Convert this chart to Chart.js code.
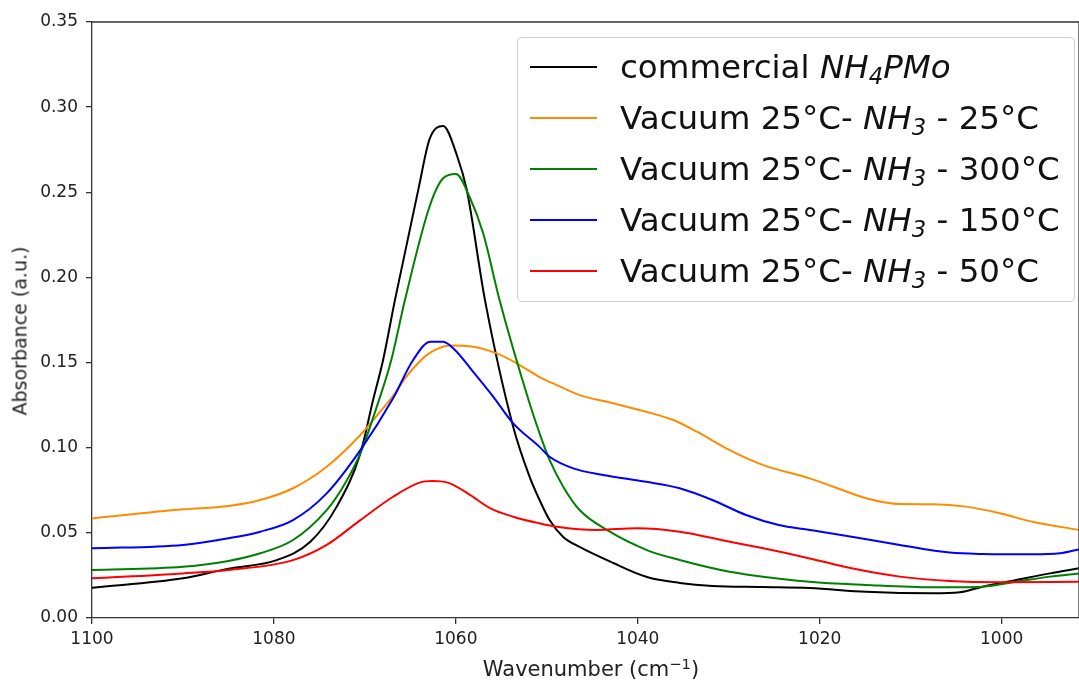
<!DOCTYPE html>
<html>
<head>
<meta charset="utf-8">
<script src="https://cdn.jsdelivr.net/npm/chart.js@4.4.1/dist/chart.umd.min.js"></script>
<style>
  html, body { margin: 0; padding: 0; background: #fff; }
  #wrap { position: relative; width: 1079px; height: 682px; }
  #legend {
    position: absolute; left: 517px; top: 37px; width: 558px; height: 265px;
    box-sizing: border-box; padding-top: 3px;
    border: 1px solid #cfcfcf; border-radius: 5px; background: rgba(255,255,255,0.8);
    font-family: "DejaVu Sans"; font-size: 32.5px; color: #111;
  }
  .row { height: 51px; display: flex; align-items: center; white-space: nowrap; }
  .swatch { width: 67px; height: 2px; margin-left: 12px; margin-right: 23px; flex: none; }
  sub { font-size: 0.7em; vertical-align: -0.25em; line-height: 0; }
  .axis-title { position: absolute; font-family: "DejaVu Sans"; color: #222; white-space: nowrap; line-height: 1; }
  #xtitle { left: 591px; top: 659px; transform: translateX(-50%); font-size: 21px; }
  #xtitle sup { font-size: 0.7em; vertical-align: 0.45em; line-height: 0; }
  #ytitle { left: 20px; top: 331px; transform: translate(-50%, -50%) rotate(-90deg); font-size: 19px; }
</style>
</head>
<body>
<div id="wrap">
  <canvas id="spectra" width="1079" height="682"></canvas>
  <div id="legend"></div>
  <div id="xtitle" class="axis-title">Wavenumber (cm<sup>−1</sup>)</div>
  <div id="ytitle" class="axis-title">Absorbance (a.u.)</div>
</div>
<script>
// wavenumber (cm-1) and absorbance, one pair of arrays per curve
const wnBlack  = [1100, 1090, 1085, 1079.7, 1076, 1073.1, 1070.5, 1069.1, 1068, 1066.7, 1064.1, 1062.9, 1061.4, 1059.9, 1058.8, 1056.8, 1053.7, 1051.9, 1050.8, 1049.7, 1048.2, 1046.4, 1042.7, 1039, 1035.4, 1031.8, 1026.3, 1021.1, 1014.9, 1007.6, 1004.6, 1002.1, 998.4, 994.7, 991.5];
const absBlack = [0.0178, 0.0233, 0.029, 0.034, 0.0448, 0.0654, 0.0967, 0.128, 0.1515, 0.1867, 0.2523, 0.2811, 0.2889, 0.2719, 0.2513, 0.1867, 0.1123, 0.083, 0.0693, 0.0575, 0.0476, 0.0417, 0.0323, 0.0241, 0.0206, 0.0188, 0.0182, 0.0176, 0.0154, 0.0145, 0.0151, 0.0184, 0.0223, 0.0262, 0.0292];

const wnOrange  = [1100, 1090, 1085, 1081.5, 1077.9, 1074.2, 1070.5, 1068.5, 1066.9, 1065.4, 1064, 1062.9, 1060.7, 1058.1, 1055.5, 1053.3, 1050.8, 1048.9, 1046.4, 1042.7, 1039.1, 1036.1, 1033.5, 1029.9, 1026.2, 1021.1, 1018.5, 1014.9, 1011.2, 1007.5, 1003.9, 1000.2, 996.6, 991.5];
const absOrange = [0.0585, 0.0638, 0.0658, 0.0693, 0.0762, 0.0888, 0.1075, 0.12, 0.1305, 0.142, 0.1505, 0.1555, 0.16, 0.1593, 0.1554, 0.1496, 0.1415, 0.1368, 0.1309, 0.1261, 0.1211, 0.1163, 0.1094, 0.0986, 0.0898, 0.082, 0.0771, 0.0703, 0.0669, 0.0668, 0.0654, 0.0615, 0.0565, 0.0517];

const wnGreen  = [1100, 1090, 1085, 1081.5, 1077.9, 1074.2, 1072.4, 1070.5, 1068.7, 1067.1, 1065.6, 1062.9, 1061.4, 1060, 1058.5, 1057, 1055.2, 1051.9, 1050.8, 1049.7, 1048.2, 1046.4, 1043.4, 1039, 1035.4, 1029.9, 1021.1, 1014.9, 1007.6, 1002.1, 998.4, 994.7, 991.5];
const absGreen = [0.0282, 0.0301, 0.0335, 0.038, 0.0458, 0.0634, 0.0771, 0.0967, 0.124, 0.1515, 0.1867, 0.2415, 0.2582, 0.2607, 0.2474, 0.2259, 0.1867, 0.1261, 0.1085, 0.0928, 0.0771, 0.0634, 0.0517, 0.0399, 0.0341, 0.0272, 0.0213, 0.0194, 0.018, 0.0184, 0.0213, 0.0243, 0.0262];

const wnBlue  = [1100, 1090, 1085, 1081.5, 1077.9, 1074.2, 1070.5, 1066.9, 1064.7, 1062.8, 1061.4, 1060.1, 1058.1, 1055.9, 1053.7, 1050.8, 1049.7, 1047.1, 1043.8, 1039.1, 1035.4, 1031.8, 1028.1, 1024.5, 1021.1, 1016.5, 1011.2, 1005.7, 1002.1, 996.6, 993.6, 991.5];
const absBlue = [0.0409, 0.0429, 0.0468, 0.0507, 0.0575, 0.0732, 0.0986, 0.129, 0.1515, 0.1623, 0.1623, 0.1574, 0.1446, 0.13, 0.1143, 0.1005, 0.0947, 0.0879, 0.084, 0.08, 0.0762, 0.0693, 0.0605, 0.0546, 0.0517, 0.0477, 0.0429, 0.0384, 0.0376, 0.0374, 0.038, 0.0403];

const wnRed  = [1100, 1090, 1085, 1077.9, 1074.2, 1070.5, 1066.9, 1064, 1062.6, 1060.9, 1058.7, 1056.2, 1053.7, 1050.8, 1048.9, 1044.5, 1040.1, 1035.4, 1029.9, 1026.2, 1021.1, 1016.5, 1011.2, 1005.7, 1000.2, 991.5];
const absRed = [0.0233, 0.0262, 0.0282, 0.034, 0.0429, 0.0575, 0.0712, 0.0795, 0.0804, 0.0795, 0.0732, 0.0644, 0.0595, 0.0556, 0.0536, 0.0517, 0.0527, 0.0507, 0.0448, 0.0409, 0.035, 0.0292, 0.0243, 0.0217, 0.021, 0.0213];

const xTicks = [1100, 1080, 1060, 1040, 1020, 1000];
const yTicks = [0, 0.05, 0.1, 0.15, 0.2, 0.25, 0.3, 0.35];

const legendLabels = [
  "commercial <i>NH<sub>4</sub>PMo</i>",
  "Vacuum 25°C- <i>NH<sub>3</sub></i> - 25°C",
  "Vacuum 25°C- <i>NH<sub>3</sub></i> - 300°C",
  "Vacuum 25°C- <i>NH<sub>3</sub></i> - 150°C",
  "Vacuum 25°C- <i>NH<sub>3</sub></i> - 50°C",
];
const lineColors = ["#000000", "#ff8c00", "#008000", "#0000ff", "#ff0000"];

const toPoints = (xs, ys) => xs.map((x, i) => ({ x: x, y: ys[i] }));
const curves = [
  toPoints(wnBlack, absBlack),
  toPoints(wnOrange, absOrange),
  toPoints(wnGreen, absGreen),
  toPoints(wnBlue, absBlue),
  toPoints(wnRed, absRed),
];

// top and right spines, like matplotlib's box
const frame = {
  id: "frame",
  afterDraw(chart) {
    const { ctx, chartArea: a } = chart;
    ctx.save();
    ctx.strokeStyle = "#333";
    ctx.lineWidth = 1.3;
    ctx.beginPath();
    ctx.moveTo(a.left, a.top);
    ctx.lineTo(a.right, a.top);
    ctx.lineTo(a.right, a.bottom);
    ctx.stroke();
    ctx.restore();
  },
};

const font = { family: "DejaVu Sans", size: 17 };
const axisGrid = { drawOnChartArea: false, drawTicks: true, tickLength: 6, color: "#333", lineWidth: 1.3 };
const axisBorder = { display: true, color: "#333", width: 1.3 };

new Chart(document.getElementById("spectra").getContext("2d"), {
  type: "line",
  data: {
    datasets: curves.map((pts, i) => ({
      label: legendLabels[i],
      data: pts,
      borderColor: lineColors[i],
      borderWidth: 2,
      pointRadius: 0,
      fill: false,
      cubicInterpolationMode: "monotone",
      order: 5 - i,
    })),
  },
  options: {
    responsive: false,
    animation: false,
    layout: { padding: { top: 22, right: 0, left: 0, bottom: 0 } },
    plugins: { legend: { display: false }, tooltip: { enabled: false } },
    scales: {
      x: {
        type: "linear",
        reverse: true,
        min: 991.5,
        max: 1100,
        afterBuildTicks: (s) => { s.ticks = xTicks.map((v) => ({ value: v })); },
        afterFit: (s) => { s.height = 64; },
        ticks: { font, color: "#222", padding: 5, maxRotation: 0, callback: (v) => String(v) },
        grid: axisGrid,
        border: axisBorder,
      },
      y: {
        min: 0,
        max: 0.35,
        afterBuildTicks: (s) => { s.ticks = yTicks.map((v) => ({ value: v })); },
        afterFit: (s) => { s.width = 92; },
        ticks: { font, color: "#222", padding: 8, callback: (v) => v.toFixed(2) },
        grid: axisGrid,
        border: axisBorder,
      },
    },
  },
  plugins: [frame],
});

const legendBox = document.getElementById("legend");
legendLabels.forEach((txt, i) => {
  const row = document.createElement("div");
  row.className = "row";
  row.innerHTML = '<span class="swatch" style="background:' + lineColors[i] + '"></span><span>' + txt + "</span>";
  legendBox.appendChild(row);
});
</script>
</body>
</html>
